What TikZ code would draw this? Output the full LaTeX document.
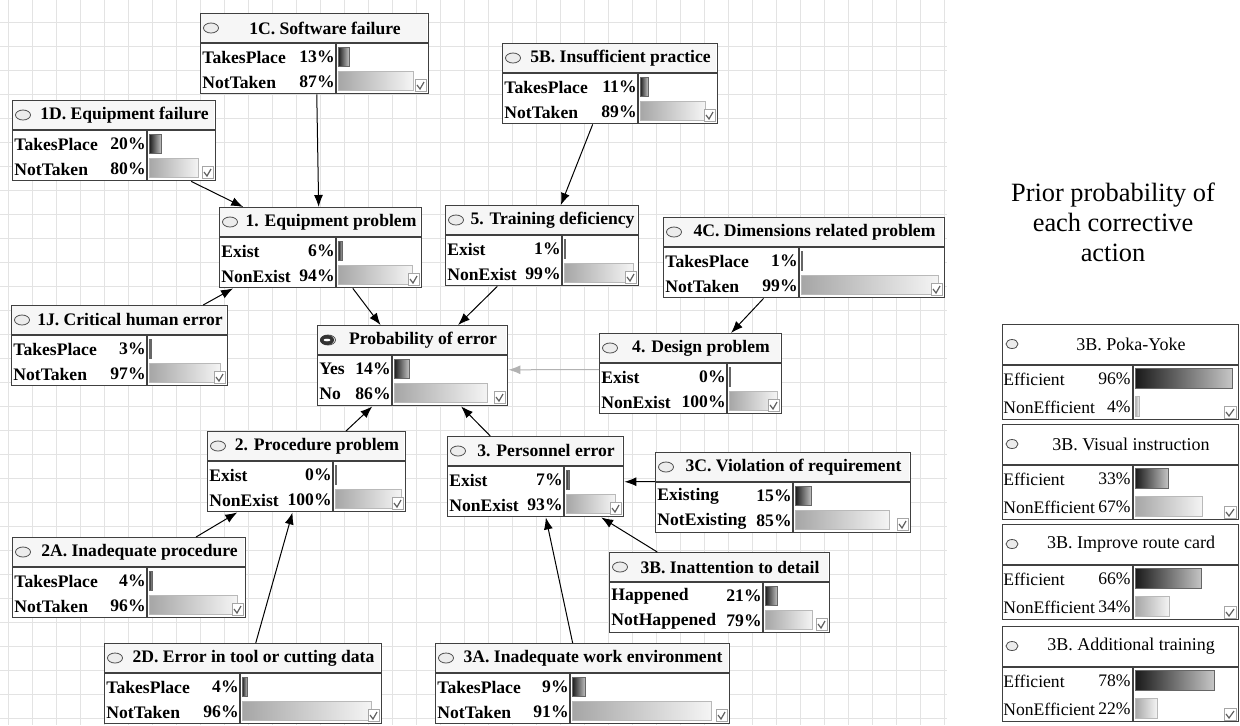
\documentclass[tikz,border=0pt]{standalone}
\usepackage{fontspec}
\setmainfont{Liberation Serif}
\usetikzlibrary{calc,arrows.meta}

% network node: name, top-left, width, divider, title, state, pct, state, pct
\newcommand{\netnode}[9]{%
  \begin{scope}[shift={(#2)}]
    \node[netbox,minimum width=#3*0.5pt,anchor=north west] (#1) at (0,0) {};
    \fill[gray!7] (1,1) rectangle (#3-1,30);
    \draw[sepline] (0,30) -- (#3,30) (#4,30) -- (#4,80);
    \draw[oval] (11,15) ellipse (7.5 and 5);
    \node[ttl] at ({(22+#3)/2},15) {#5};
    \node[rowtxt,anchor=west] at (2,44) {#6};
    \node[rowtxt,anchor=east] at (#4-1,44) {#7\%};
    \node[rowtxt,anchor=west] at (2,69) {#8};
    \node[rowtxt,anchor=east] at (#4-1,69) {#9\%};
    \path[topbar] (#4+2,34) rectangle ({#4+2+max(1.5,#7*(#3-#4-6)/100)},53);
    \path[botbar] (#4+2,58) rectangle ({#4+2+max(1.5,#9*(#3-#4-6)/100)},77);
    \draw[tickbox] (#3-13,66) rectangle (#3-2,78);
    \draw[tickmark] (#3-11,72) -- (#3-8,76) -- (#3-4,69);
  \end{scope}}

% corrective action panel: name, top, title, pct, pct
\newcommand{\actnode}[5]{%
  \begin{scope}[shift={(1002,#2)}]
    \node[actbox,anchor=north west] (#1) at (0,0) {};
    \draw[sepline] (0,41) -- (236,41) (131,41) -- (131,95);
    \draw[oval] (10,20) ellipse (6 and 4.5);
    \node[actttl] at (129,20) {#3};
    \node[acttxt,anchor=west] at (1,55) {Efficient};
    \node[acttxt,anchor=east] at (129,55) {#4\%};
    \node[acttxt,anchor=west] at (1,83) {NonEfficient};
    \node[acttxt,anchor=east] at (129,83) {#5\%};
    \path[topbar] (133,44) rectangle ({133+max(1.5,#4*1.01)},64);
    \path[botbar] (133,72) rectangle ({133+max(1.5,#5*1.01)},92);
    \draw[tickbox] (222,82) rectangle (234,94);
    \draw[tickmark] (224,88) -- (227,92) -- (232,85);
  \end{scope}}

\begin{document}
\begin{tikzpicture}
  [x=0.5pt,y=-0.5pt,>={Latex[length=6pt,width=4.5pt]},
   gridline/.style={gray!22,line width=0.4pt},
   netbox/.style={draw=black!75,fill=white,line width=0.7pt,inner sep=0pt,minimum height=40pt},
   actbox/.style={draw=black!75,fill=white,line width=0.7pt,inner sep=0pt,minimum width=118pt,minimum height=47.5pt},
   sepline/.style={black!75,line width=0.7pt},
   oval/.style={draw=black!70,fill=gray!15,line width=0.4pt},
   ttl/.style={font=\bfseries\fontsize{8.8}{10}\selectfont,inner sep=0pt},
   rowtxt/.style={font=\bfseries\fontsize{8.8}{10}\selectfont,inner sep=0pt},
   actttl/.style={font=\fontsize{9}{10}\selectfont,inner sep=0pt},
   acttxt/.style={font=\fontsize{8.8}{10}\selectfont,inner sep=0pt},
   topbar/.style={left color=black!90,right color=gray!45,draw=black!60,line width=0.3pt},
   botbar/.style={left color=gray!70,right color=gray!8,draw=gray!55,line width=0.3pt},
   tickbox/.style={draw=gray!70,fill=white,line width=0.4pt},
   tickmark/.style={gray!75!black,line width=0.6pt},
   link/.style={->,line width=0.5pt},
   greylink/.style={link,gray!60},
   prior/.style={align=center,font=\fontsize{13.2}{15}\selectfont}]

  \useasboundingbox (0,0) rectangle (1240,725);
  \fill[white] (0,0) rectangle (1240,725);

  \foreach \gx in {8,32,...,944} \draw[gridline] (\gx,0) -- (\gx,725);
  \foreach \gy in {22,46,...,718} \draw[gridline] (0,\gy) -- (947,\gy);

  \netnode{n1c}{200,13}{228}{136}{1C. Software failure}{TakesPlace}{13}{NotTaken}{87}
  \netnode{n1d}{12,100}{203}{135}{1D. Equipment failure}{TakesPlace}{20}{NotTaken}{80}
  \netnode{n5b}{502,43}{215}{136}{5B. Insufficient practice}{TakesPlace}{11}{NotTaken}{89}
  \netnode{n1}{219,207}{202}{117}{1. Equipment problem}{Exist}{6}{NonExist}{94}
  \netnode{n5}{445,205}{193}{117}{5. Training deficiency}{Exist}{1}{NonExist}{99}
  \netnode{n4c}{663,217}{281}{136}{4C. Dimensions related problem}{TakesPlace}{1}{NotTaken}{99}
  \netnode{n1j}{11,305}{216}{136}{1J. Critical human error}{TakesPlace}{3}{NotTaken}{97}
  \netnode{perr}{317,325}{190}{75}{Probability of error}{Yes}{14}{No}{86}
  \netnode{n4}{599,333}{182}{128}{4. Design problem}{Exist}{0}{NonExist}{100}
  \netnode{n2}{207,431}{198}{126}{2. Procedure problem}{Exist}{0}{NonExist}{100}
  \netnode{n3}{447,436}{176}{117}{3. Personnel error}{Exist}{7}{NonExist}{93}
  \netnode{n3c}{655,452}{255}{138}{3C. Violation of requirement}{Existing}{15}{NotExisting}{85}
  \netnode{n3b}{609,552}{220}{154}{3B. Inattention to detail}{Happened}{21}{NotHappened}{79}
  \netnode{n2a}{12,537}{233}{135}{2A. Inadequate procedure}{TakesPlace}{4}{NotTaken}{96}
  \netnode{n2d}{104,643}{277}{136}{2D. Error in tool or cutting data}{TakesPlace}{4}{NotTaken}{96}
  \netnode{n3a}{435,643}{294}{135}{3A. Inadequate work environment}{TakesPlace}{9}{NotTaken}{91}

  % target node has a dark marker
  \fill[black!80] (327,340) ellipse (7 and 5);
  \fill[white] (327,340) ellipse (3.5 and 1.3);

  \draw[link] ($(n1c.south west)!0.509!(n1c.south east)$) -- ($(n1.north west)!0.49!(n1.north east)$);
  \draw[link] ($(n1d.south west)!0.877!(n1d.south east)$) -- ($(n1.north west)!0.119!(n1.north east)$);
  \draw[link] ($(n5b.south west)!0.419!(n5b.south east)$) -- ($(n5.north west)!0.596!(n5.north east)$);
  \draw[link] ($(n1j.north west)!0.884!(n1j.north east)$) -- ($(n1.south west)!0.069!(n1.south east)$);
  \draw[link] ($(n1.south west)!0.658!(n1.south east)$) -- ($(perr.north west)!0.332!(perr.north east)$);
  \draw[link] ($(n5.south west)!0.269!(n5.south east)$) -- ($(perr.north west)!0.737!(perr.north east)$);
  \draw[link] ($(n4c.south west)!0.356!(n4c.south east)$) -- ($(n4.north west)!0.72!(n4.north east)$);
  \draw[greylink] ($(n4.north west)!0.45!(n4.south west)$) -- ($(perr.north east)!0.55!(perr.south east)$);
  \draw[link] ($(n2.north west)!0.697!(n2.north east)$) -- ($(perr.south west)!0.289!(perr.south east)$);
  \draw[link] ($(n3.north west)!0.244!(n3.north east)$) -- ($(perr.south west)!0.753!(perr.south east)$);
  \draw[link] ($(n2a.north west)!0.785!(n2a.north east)$) -- ($(n2.south west)!0.152!(n2.south east)$);
  \draw[link] ($(n2d.north west)!0.545!(n2d.north east)$) -- ($(n2.south west)!0.429!(n2.south east)$);
  \draw[link] ($(n3c.north west)!0.3625!(n3c.south west)$) -- ($(n3.north east)!0.5625!(n3.south east)$);
  \draw[link] ($(n3b.north west)!0.218!(n3b.north east)$) -- ($(n3.south west)!0.869!(n3.south east)$);
  \draw[link] ($(n3a.north west)!0.466!(n3a.north east)$) -- ($(n3.south west)!0.557!(n3.south east)$);

  \node[prior] (priortext) at (1113,222) {Prior probability of\\each corrective\\action};

  \actnode{pokayoke}{324}{3B. Poka-Yoke}{96}{4}
  \actnode{visual}{424}{3B. Visual instruction}{33}{67}
  \actnode{routecard}{524}{3B. Improve route card}{66}{34}
  \actnode{training}{626}{3B. Additional training}{78}{22}
\end{tikzpicture}
\end{document}
